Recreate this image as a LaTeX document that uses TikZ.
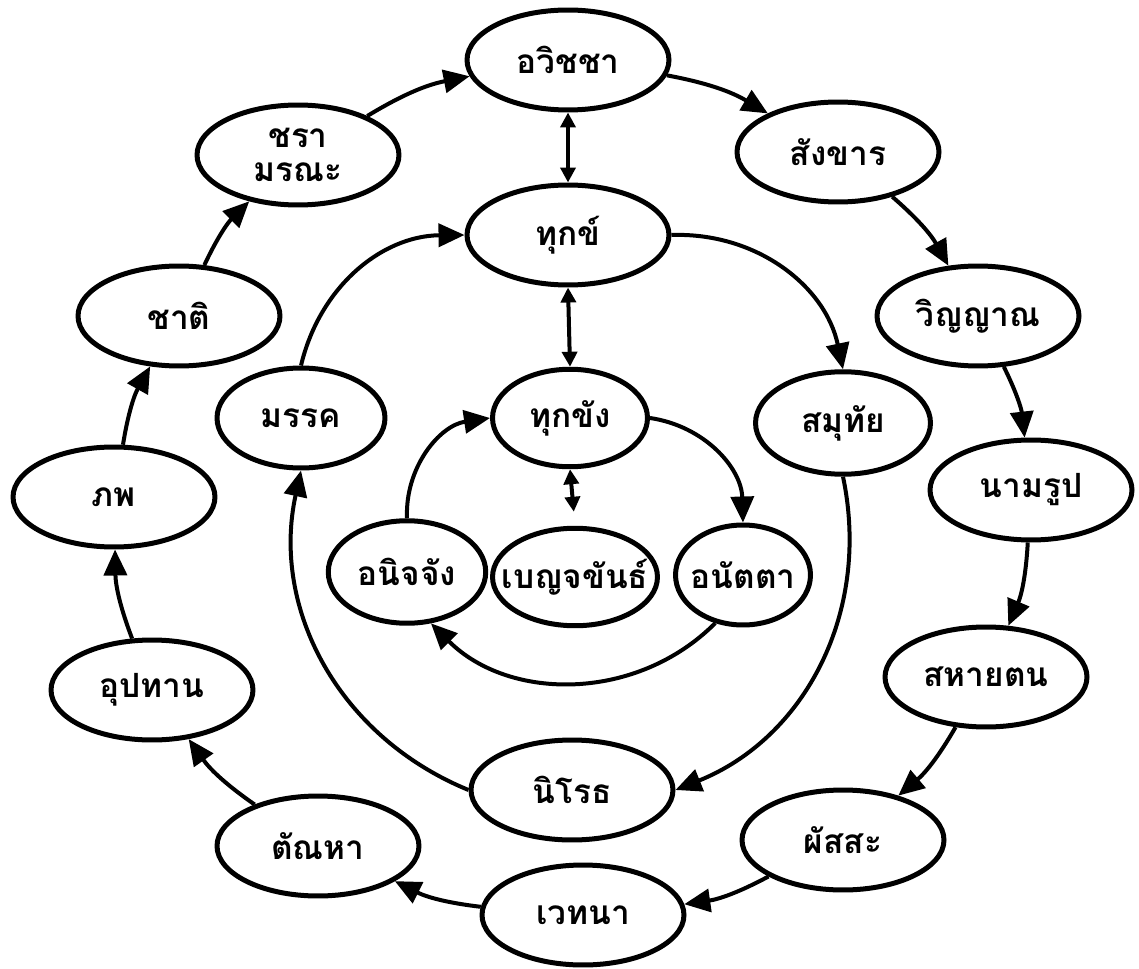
\documentclass[tikz,border=0pt]{standalone}
\usepackage{fontspec}
\newfontfamily\thaifont[Script=Thai]{Loma}
\usetikzlibrary{arrows.meta,shapes.geometric}

\begin{document}
\begin{tikzpicture}[x=0.02cm,y=-0.02cm,>={Triangle[length=0.52cm,width=0.46cm]},
                    line width=0.08cm,
                    main node/.style={ellipse,draw,line width=0.1cm,minimum width=4.04cm,minimum height=2cm,
                                      inner sep=0pt,inner xsep=-0.3cm,align=center,font=\thaifont\bfseries\fontsize{19}{21}\selectfont},
                    small node/.style={main node,minimum width=3.1cm,minimum height=1.95cm},
                    both/.style={{Triangle[length=0.3cm,width=0.3cm]}-{Triangle[length=0.3cm,width=0.3cm]}}]
  \useasboundingbox (0,0) rectangle (1139,969);
  \fill[white] (0,0) rectangle (1139,969);
  % outer ring
  \node[main node] (1) at (568,60) {อวิชชา};
  \node[main node] (2) at (838,152) {สังขาร};
  \node[main node] (3) at (978,316) {วิญญาณ};
  \node[main node] (4) at (1031,490) {นามรูป};
  \node[main node] (5) at (986,677) {สหายตน};
  \node[main node] (6) at (843,840) {ผัสสะ};
  \node[main node] (7) at (583,915) {เวทนา};
  \node[main node] (8) at (318,846) {ตัณหา};
  \node[main node] (9) at (152,690) {อุปทาน};
  \node[main node] (10) at (114,497) {ภพ};
  \node[main node] (11) at (179,316) {ชาติ};
  \node[main node] (12) at (298,155) {ชรา\\[-2pt]มรณะ};
  % inner ring
  \node[main node] (13) at (568,235) {ทุกข์};
  \node[main node,minimum width=3.5cm,minimum height=2.05cm] (14) at (843,423) {สมุทัย};
  \node[main node] (15) at (572,790) {นิโรธ};
  \node[main node,minimum width=3.36cm] (16) at (301,418) {มรรค};
  % centre
  \node[small node] (17) at (570,418) {ทุกขัง};
  \node[small node,minimum width=3.15cm,minimum height=2.05cm] (18) at (407,572) {อนิจจัง};
  \node[small node] (19) at (575,577) {เบญจขันธ์};
  \node[small node,minimum width=2.7cm,minimum height=2cm] (20) at (743,575) {อนัตตา};

  \path[->]
    (1) edge [bend left=10] (2)
    (2) edge [bend left=10] (3)
    (3) edge [bend left=10] (4)
    (4) edge [bend left=10] (5)
    (5) edge [bend left=10] (6)
    (6) edge [bend left=10] (7)
    (7) edge [bend left=10] (8)
    (8) edge [bend left=10] (9)
    (9) edge [bend left=10] (10)
    (10) edge [bend left=10] (11)
    (11) edge [bend left=10] (12)
    (12) edge [bend left=10] (1);
  \path[->]
    (13.east) edge [bend left=40] (14.north)
    (14.south) edge [bend left=40] (15.east)
    (15.west) edge [bend left=40] (16.south)
    (16.north) edge [bend left=38] (13.west);
  \path[->]
    (17.east) edge [bend left=40] (20.north)
    (20.240) edge [bend left=45] (18.295)
    (18.north) edge [bend left=42] (17.west);
  \path[both]
    (1.south) edge (13.north)
    (13.south) edge (17.north)
    (17.south) edge [shorten >=8pt] (19.north);
\end{tikzpicture}
\end{document}
